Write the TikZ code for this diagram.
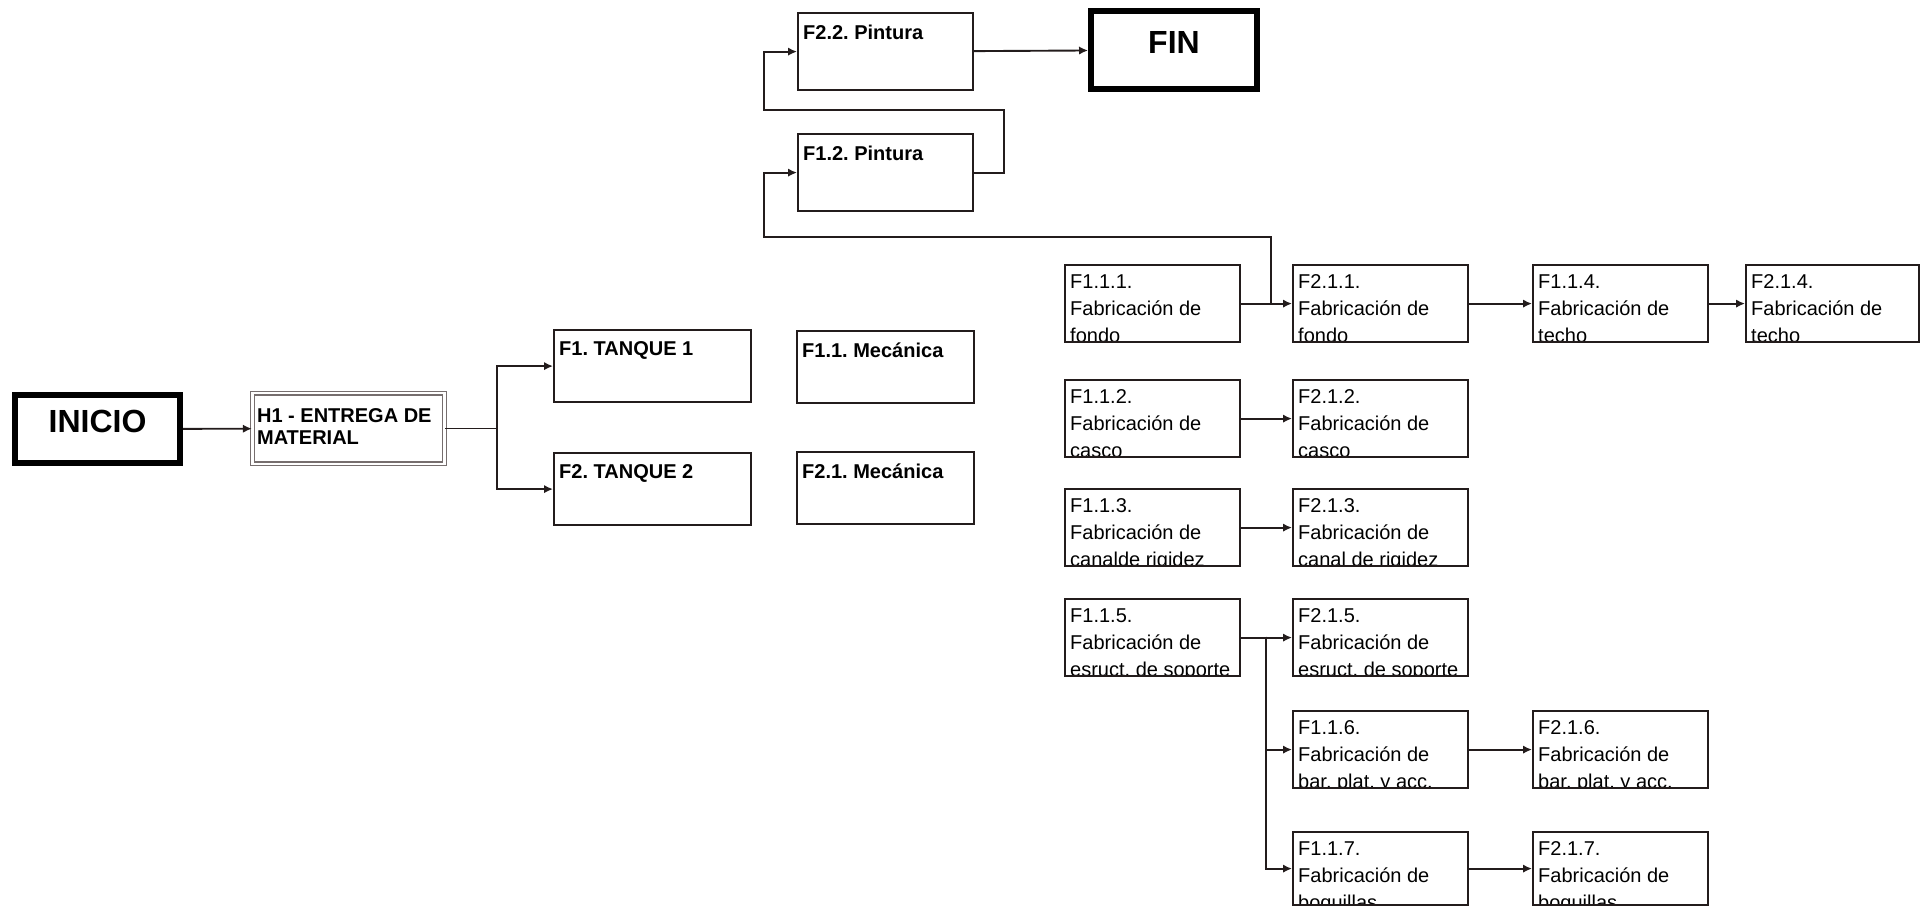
\documentclass[tikz,border=0pt]{standalone}
\usepackage{fontspec}
\setmainfont{Liberation Sans}
\usetikzlibrary{arrows.meta}
\frenchspacing
\definecolor{boxdark}{RGB}{35,28,28}
\definecolor{hitogray}{RGB}{118,110,110}
\tikzset{
  box/.style={draw=boxdark, line width=1.1pt, inner sep=0pt, anchor=north west},
  tasktext/.style={anchor=north west, inner sep=0pt, draw=none, minimum width=0pt, minimum height=0pt,
    align=left, font=\fontsize{10}{13.5}\selectfont},
  stagetext/.style={tasktext, font=\bfseries\fontsize{10}{11}\selectfont},
  task/.style={box, minimum width=87.5pt, minimum height=38.5pt,
    path picture={\node[tasktext] at ([shift={(2pt,-4.3pt)}]path picture bounding box.north west) {#1};}},
  stage/.style={box, minimum width=87.5pt, minimum height=36pt,
    path picture={\node[stagetext] at ([shift={(2pt,-5.3pt)}]path picture bounding box.north west) {#1};}},
  hito/.style={draw=hitogray, double=white, double distance=1.2pt, line width=0.6pt, inner sep=0pt,
    minimum width=96pt, minimum height=35.3pt,
    path picture={\node[stagetext] at ([shift={(2pt,-7.3pt)}]path picture bounding box.north west) {#1};}},
  terminal/.style={draw=black, line width=3pt, inner sep=0pt, text depth=7.5pt,
    font=\bfseries\fontsize{16}{18}\selectfont},
  link/.style={draw=boxdark, line width=0.95pt},
  flow/.style={link, -{Latex[length=4.5pt,width=4.2pt]}},
}
\begin{document}
\begin{tikzpicture}[x=0.5pt,y=-0.5pt]
\useasboundingbox (0,0) rectangle (1921,905);
%%% Start, delivery and the two tanks
\node[terminal, minimum width=82.5pt, minimum height=34pt] (inicio) at (97.5,429) {INICIO};
\node[hito={H1 - ENTREGA DE\\MATERIAL}] (h1) at (348.5,428.5) {};
\node[stage={F1. TANQUE 1}, minimum width=98.5pt] (t1) at (553,329) {};
\node[stage={F2. TANQUE 2}, minimum width=98.5pt] (t2) at (553,452) {};
\node[stage={F1.1. Mecánica}, minimum width=88.5pt] (m1) at (796,330) {};
\node[stage={F2.1. Mecánica}, minimum width=88.5pt] (m2) at (796,451) {};
%%% Painting and end
\node[stage={F2.2. Pintura}, minimum height=38.5pt] (p2) at (797,12) {};
\node[stage={F1.2. Pintura}, minimum height=38.5pt] (p1) at (797,133) {};
\node[terminal, minimum width=83pt, minimum height=39pt] (fin) at (1174,50) {FIN};
%%% Fabrication tasks
\node[task={F1.1.1.\\Fabricación de\\fondo}] (f111) at (1064,264) {};
\node[task={F2.1.1.\\Fabricación de\\fondo}] (f211) at (1292,264) {};
\node[task={F1.1.4.\\Fabricación de\\techo}] (f114) at (1532,264) {};
\node[task={F2.1.4.\\Fabricación de\\techo}, minimum width=86.5pt] (f214) at (1745,264) {};
\node[task={F1.1.2.\\Fabricación de\\casco}] (f112) at (1064,379) {};
\node[task={F2.1.2.\\Fabricación de\\casco}] (f212) at (1292,379) {};
\node[task={F1.1.3.\\Fabricación de\\canalde rigidez}] (f113) at (1064,488) {};
\node[task={F2.1.3.\\Fabricación de\\canal de rigidez}] (f213) at (1292,488) {};
\node[task={F1.1.5.\\Fabricación de\\esruct. de soporte}] (f115) at (1064,598) {};
\node[task={F2.1.5.\\Fabricación de\\esruct. de soporte}] (f215) at (1292,598) {};
\node[task={F1.1.6.\\Fabricación de\\bar. plat. y acc.}] (f116) at (1292,710) {};
\node[task={F2.1.6.\\Fabricación de\\bar. plat. y acc.}] (f216) at (1532,710) {};
\node[task={F1.1.7.\\Fabricación de\\boquillas}, minimum height=36.5pt] (f117) at (1292,831) {};
\node[task={F2.1.7.\\Fabricación de\\boquillas}, minimum height=36.5pt] (f217) at (1532,831) {};
%%% Bend points
\coordinate (split1) at (497,428.5);
\coordinate (loopR) at (1004,110);
\coordinate (loopL) at (764,110);
\coordinate (split2) at (1271,302.5);
\coordinate (backL) at (764,237);
\coordinate (split3) at (1266,636.5);
%%% Connectors, left part
\draw[flow] (inicio) -- (h1);
\draw[link] (h1) -- (split1);
\draw[flow] (split1) |- (t1);
\draw[flow] (split1) |- (t2);
%%% Connectors, painting
\draw[flow] (p2) -- (fin);
\draw[flow] (p1.east) -| (loopR) -- (loopL) |- (p2);
\draw[flow] (split2) |- (backL) |- (p1);
%%% Connectors, fabrication
\draw[flow] (f111) -- (f211);
\draw[flow] (f211) -- (f114);
\draw[flow] (f114) -- (f214);
\draw[flow] (f112) -- (f212);
\draw[flow] (f113) -- (f213);
\draw[flow] (f115) -- (f215);
\draw[flow] (split3) |- (f116);
\draw[flow] (split3) |- (f117);
\draw[flow] (f116) -- (f216);
\draw[flow] (f117) -- (f217);
\end{tikzpicture}
\end{document}
